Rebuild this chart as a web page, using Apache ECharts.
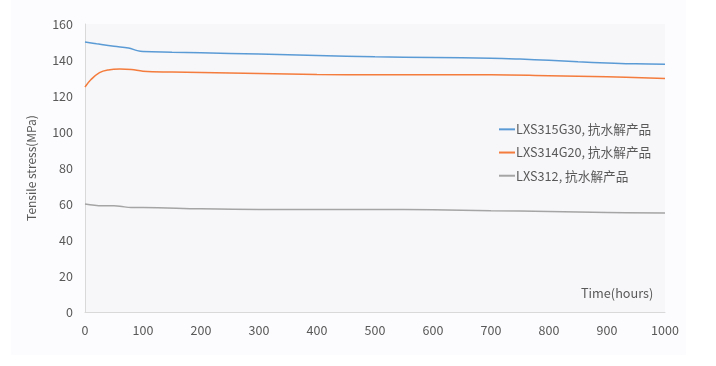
<!DOCTYPE html>
<html><head><meta charset="utf-8">
<script src="https://cdn.jsdelivr.net/npm/echarts@6/dist/echarts.min.js"></script>
<style>
html,body{margin:0;padding:0;background:#ffffff;}
#panel{position:absolute;left:11px;top:0;width:675px;height:355px;background:#fcfbfd;}
#main{position:absolute;left:0;top:0;width:716px;height:366px;}
</style></head>
<body><div id="panel"></div><div id="main"></div>
<script>
const seriesNames = ['LXS315G30, 抗水解产品', 'LXS314G20, 抗水解产品', 'LXS312, 抗水解产品'];
const blueData = [[0,150],[20,149],[50,147.6],[75,146.7],[90,145.2],[100,144.7],[150,144.3],[200,144],[300,143.3],[400,142.5],[500,141.8],[600,141.4],[700,141],[750,140.5],[800,139.8],[850,139],[900,138.4],[950,137.9],[1000,137.7]];
const orangeData = [[0,125],[10,129],[25,133],[40,134.5],[60,135],[80,134.7],[100,133.8],[150,133.3],[200,133],[300,132.5],[400,132],[500,131.8],[600,131.8],[700,131.8],[800,131.3],[900,130.7],[1000,129.7]];
const grayData = [[0,60],[30,59],[50,59],[60,58.8],[80,58],[100,58],[200,57.3],[300,57],[400,57],[500,57],[600,56.8],[700,56.3],[800,55.8],[900,55.3],[1000,55]];
const colors = ['#5b9bd5', '#f47c3c', '#a5a5a5'];
const xName = 'Time(hours)';
const yName = 'Tensile stress(MPa)';

const font = '"Noto Sans CJK SC", "Noto Sans", sans-serif';
const chart = echarts.init(document.getElementById('main'));
const datas = [blueData, orangeData, grayData];
chart.setOption({
  backgroundColor: 'transparent',
  textStyle: {fontFamily: font},
  grid: {left: 85, right: 51, top: 24, bottom: 54, show: true, backgroundColor: '#f7f6f9', borderWidth: 0},
  legend: {
    orient: 'vertical', left: 494, top: 118, itemGap: 10.5, itemWidth: 16, itemHeight: 2,
    icon: 'rect',
    textStyle: {color: '#595959', fontSize: 12.7, fontFamily: font, padding: [0,0,0,-4]},
    data: seriesNames
  },
  xAxis: {
    type: 'value', min: 0, max: 1000, interval: 100,
    name: xName, nameLocation: 'end', nameGap: -84,
    nameTextStyle: {color: '#595959', fontSize: 12.7, verticalAlign: 'bottom', padding: [0,0,12,0]},
    axisLine: {show: true, lineStyle: {color: '#d9d9d9'}},
    axisTick: {show: false},
    splitLine: {show: false},
    axisLabel: {color: '#595959', fontSize: 12.5, margin: 12, formatter: v => String(v)}
  },
  yAxis: {
    type: 'value', min: 0, max: 160, interval: 20,
    name: yName, nameLocation: 'middle', nameGap: 48,
    nameTextStyle: {color: '#595959', fontSize: 12},
    axisLine: {show: true, lineStyle: {color: '#d9d9d9'}},
    axisTick: {show: false},
    splitLine: {show: false},
    axisLabel: {color: '#595959', fontSize: 12.5, margin: 12}
  },
  series: datas.map((d, i) => ({
    name: seriesNames[i], type: 'line', data: d, smooth: 0.4, showSymbol: false,
    lineStyle: {color: colors[i], width: 1.5}, itemStyle: {color: colors[i]}
  }))
});
</script></body></html>
